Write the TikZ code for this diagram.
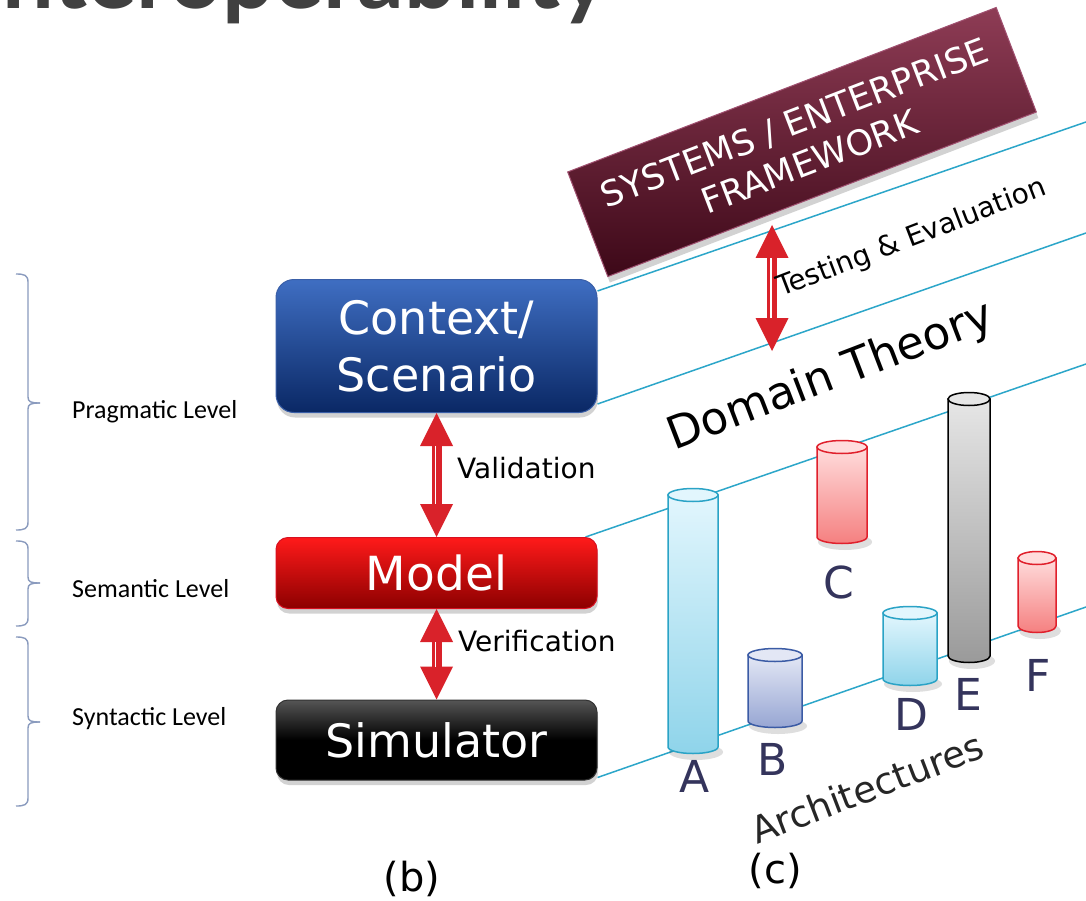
\documentclass[tikz,border=0pt]{standalone}
\usepackage{fontspec}
\setmainfont{DejaVu Sans}
\newfontfamily\carl{Carlito}
\newfontfamily\ttlfont{Lato}
\usetikzlibrary{arrows.meta,shadows}
\pgfdeclarelayer{bg}
\pgfsetlayers{bg,main}
\definecolor{ctxTop}{HTML}{3F6EC2}
\definecolor{ctxBot}{HTML}{0A2865}
\definecolor{ctxBorder}{HTML}{3A5FA8}
\definecolor{modTop}{HTML}{FF1A1A}
\definecolor{modBot}{HTML}{8C0000}
\definecolor{modBorder}{HTML}{D81020}
\definecolor{simTop}{HTML}{555555}
\definecolor{arrred}{HTML}{D9222A}
\definecolor{tealc}{HTML}{2CA6C9}
\definecolor{fwTop}{HTML}{8E3C55}
\definecolor{fwBot}{HTML}{3D0818}
\definecolor{fwBorder}{HTML}{A05070}
\definecolor{letterc}{HTML}{34345C}
\definecolor{bracec}{HTML}{8A9BBE}
\definecolor{cyanTop}{HTML}{E2F6FD}
\definecolor{cyanBot}{HTML}{8FD4EA}
\definecolor{cyanLine}{HTML}{2AA3C6}
\definecolor{lavTop}{HTML}{E3E7F5}
\definecolor{lavBot}{HTML}{97A6D3}
\definecolor{lavLine}{HTML}{3B5BA5}
\definecolor{pinkTop}{HTML}{FFDCDC}
\definecolor{pinkBot}{HTML}{F58080}
\definecolor{pinkLine}{HTML}{E0202C}
\definecolor{greyTop}{HTML}{E6E6E6}
\definecolor{greyBot}{HTML}{9A9A9A}
% cylinder: cx, r, ytop, ybot, top colour, bottom colour, stroke, cap fill
\newcommand\mycyl[8]{%
  \fill[black,opacity=.13] (#1+3,#4+5) ellipse[x radius=#2pt+2pt,y radius=8pt];
  \shade[top color=#5,bottom color=#6,draw=#7,line width=1.5pt]
    (#1-#2,#3) -- (#1-#2,#4) arc[start angle=180,end angle=360,x radius=#2pt,y radius=6.5pt] -- (#1+#2,#3) -- cycle;
  \filldraw[fill=#8,draw=#7,line width=1.5pt] (#1,#3) ellipse[x radius=#2pt,y radius=6.5pt];
}
\newcommand\mybrace[3]{%
  \draw[bracesty] (16,#1) .. controls (24,#1) and (28,#1+1) .. (28,#1+8) -- (28,#2-6) .. controls (28,#2-1) and (31,#2) .. (40,#2);
  \draw[bracesty] (40,#2) .. controls (31,#2) and (28,#2+1) .. (28,#2+6) -- (28,#3-8) .. controls (28,#3-1) and (24,#3) .. (16,#3);
}
\begin{document}
\begin{tikzpicture}[x=1pt,y=-1pt,
  box/.style={minimum width=321pt, text=white, align=center, inner sep=0pt,
    drop shadow={opacity=0.35,shadow xshift=1pt,shadow yshift=-5pt}},
  tealline/.style={draw=tealc, line width=1.5pt},
  bracesty/.style={draw=bracec, line width=1.4pt},
  dbl/.style={draw=arrred, line width=10pt,
    {Triangle[width=33pt,length=33pt,line width=0pt]}-{Triangle[width=33pt,length=33pt,line width=0pt]}},
  dblgap/.style={draw=white, line width=1.6pt, shorten <=33pt, shorten >=33pt},
  lvl/.style={font=\carl\fontsize{26}{30}\selectfont, anchor=base west, inner sep=0pt},
  lbl/.style={font=\fontsize{28}{32}\selectfont, anchor=base west, inner sep=0pt},
  letter/.style={font=\fontsize{44}{50}\selectfont, text=letterc, anchor=base, inner sep=0pt}]
\useasboundingbox (0,0) rectangle (1086,901);
\clip (0,0) rectangle (1086,901);
\begin{pgfonlayer}{bg}
\fill[white] (0,0) rectangle (1086,901);
\end{pgfonlayer}

% title (cut off)
\node[font=\ttlfont\bfseries\fontsize{92}{94}\selectfont, text=black!75, anchor=base west, inner sep=0pt] (title) at (2,9) {nteroperability};

% braces and level labels
\mybrace{274}{403}{530}
\mybrace{541}{583}{626}
\mybrace{637}{722}{806}
\node[lvl] (prag) at (72,418) {Pragmatic Level};
\node[lvl] (sem) at (72,597) {Semantic Level};
\node[lvl] (syn) at (72,725) {Syntactic Level};

% boxes
\node[box, rounded corners=18pt, minimum height=133pt, top color=ctxTop, bottom color=ctxBot, draw=ctxBorder, line width=1pt,
  font=\fontsize{46}{57}\selectfont] (ctx) at (436.5,346) {Context/\\Scenario};
\node[box, rounded corners=12pt, minimum height=71pt, top color=modTop, bottom color=modBot, draw=modBorder, line width=1pt,
  font=\fontsize{47}{50}\selectfont] (model) at (436.5,573) {Model};
\node[box, rounded corners=12pt, minimum height=80pt, top color=simTop, bottom color=black, middle color=black, draw=black!80, line width=1pt,
  font=\fontsize{46}{50}\selectfont] (sim) at (436.5,740) {Simulator};

% framework box
\node[rotate=21, minimum width=459pt, minimum height=112pt, top color=fwTop, bottom color=fwBot, draw=fwBorder, line width=1pt,
  text=white, align=center, inner sep=0pt, font=\fontsize{35}{42}\selectfont,
  drop shadow={opacity=0.35,shadow xshift=2pt,shadow yshift=-6pt}] (fw) at (802,142) {SYSTEMS / ENTERPRISE\\FRAMEWORK};

% teal guide lines
\coordinate (e1) at (1086,122);
\coordinate (e2) at (1086,233);
\coordinate (e3) at (1086,364);
\coordinate (e4) at (1086,607);
\begin{pgfonlayer}{bg}
\draw[tealline] ([yshift=-12pt]ctx.north east) -- (e1);
\draw[tealline] ([yshift=9pt]ctx.south east) -- (e2);
\draw[tealline] ([xshift=-12pt]model.north east) -- (e3);
\draw[tealline] ([yshift=3pt]sim.south east) -- (e4);
\end{pgfonlayer}

% arrows
\draw[dbl] (ctx.south) -- (model.north);
\draw[dblgap] ([xshift=-1pt]ctx.south) -- ([xshift=-1pt]model.north);
\node[lbl] (val) at (457,478) {Validation};
\draw[dbl] (model.south) -- (sim.north);
\draw[dblgap] ([xshift=-1pt]model.south) -- ([xshift=-1pt]sim.north);
\node[lbl] (ver) at (458,651) {Verification};
\coordinate (t1) at (772,225);
\coordinate (t2) at (772,351);
\draw[dbl] (t1) -- (t2);
\draw[dblgap] ([xshift=-1pt]t1) -- ([xshift=-1pt]t2);
\node[font=\fontsize{28}{32}\selectfont, anchor=base west, inner sep=0pt, rotate=21] (test) at (781,297) {Testing \& Evaluation};

\node[font=\fontsize{45}{50}\selectfont, anchor=base west, inner sep=0pt, rotate=21] (dom) at (674,451) {Domain Theory};

% cylinders
\mycyl{693}{25}{495}{747}{cyanTop}{cyanBot}{cyanLine}{cyanTop}
\mycyl{775}{27}{655}{721}{lavTop}{lavBot}{lavLine}{lavTop}
\mycyl{842}{25}{447}{537}{pinkTop}{pinkBot}{pinkLine}{pinkTop}
\mycyl{910}{27}{613}{679}{cyanTop}{cyanBot}{cyanLine}{cyanTop}
\mycyl{969}{21}{399}{656}{greyTop}{greyBot}{black}{greyTop}
\mycyl{1037}{19}{558}{626}{pinkTop}{pinkBot}{pinkLine}{pinkTop}

\node[letter] (la) at (695,792) {A};
\node[letter] (lb) at (773,775) {B};
\node[letter] (lc) at (839,598) {C};
\node[letter] (ld) at (911,730) {D};
\node[letter] (le) at (968,710) {E};
\node[letter] (lf) at (1038,691) {F};

\node[font=\fontsize{37}{40}\selectfont, text=black!85, anchor=base west, inner sep=0pt, rotate=21] (arch) at (757,845) {Architectures};

\node[font=\fontsize{40}{42}\selectfont, anchor=base, inner sep=0pt] (capb) at (412,891) {(b)};
\node[font=\fontsize{40}{42}\selectfont, anchor=base, inner sep=0pt] (capc) at (775,883) {(c)};
\end{tikzpicture}
\end{document}
